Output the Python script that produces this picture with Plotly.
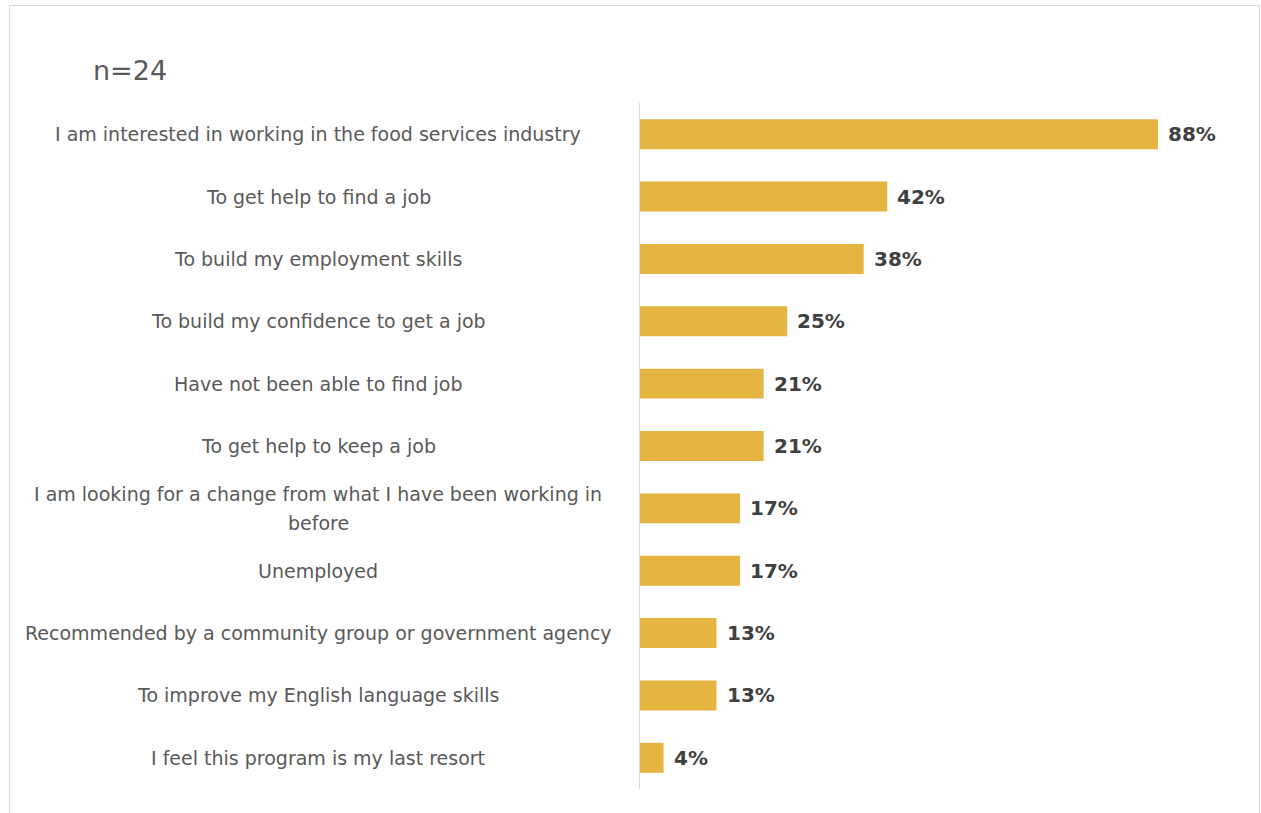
import plotly.graph_objects as go

# Reasons for joining the program, top to bottom
reasons = [
    "I am interested in working in the food services industry",
    "To get help to find a job",
    "To build my employment skills",
    "To build my confidence to get a job",
    "Have not been able to find job",
    "To get help to keep a job",
    "I am looking for a change from what I have been working in<br>before",
    "Unemployed",
    "Recommended by a community group or government agency",
    "To improve my English language skills",
    "I feel this program is my last resort",
]
shares = [88, 42, 38, 25, 21, 21, 17, 17, 13, 13, 4]
sample_note = "n=24"

W, H = 1261, 813
L, R, T, B = 640, 21, 103, 24
plot_w = W - L - R
plot_h = H - T - B

def px_to_paper_x(px):
    return (px - L) / plot_w

def px_to_paper_y(py):
    return (H - B - py) / plot_h

bar_color = "#E6B441"
label_color = "#595959"
value_color = "#404040"
font_family = "DejaVu Sans, Verdana, sans-serif"
line_gap = 29  # spacing between lines of a wrapped category label

fig = go.Figure(
    go.Bar(
        x=shares,
        y=reasons,
        orientation="h",
        marker=dict(color=bar_color, line=dict(width=0)),
        width=0.48,
        hoverinfo="skip",
    )
)

annotations = []
# Value labels just beyond the bar ends
for r, v in zip(reasons, shares):
    annotations.append(dict(
        x=v, y=r, xref="x", yref="y",
        text=f"<b>{v}%</b>", showarrow=False,
        xanchor="left", yanchor="middle", xshift=8,
        font=dict(family=font_family, size=20, color=value_color),
    ))
# Category labels centred in the left panel, one annotation per line
for r in reasons:
    lines = r.split("<br>")
    n = len(lines)
    for i, line in enumerate(lines):
        annotations.append(dict(
            x=px_to_paper_x(318), y=r, xref="paper", yref="y",
            text=line, showarrow=False, align="center",
            xanchor="center", yanchor="middle",
            yshift=((n - 1) / 2 - i) * line_gap,
            font=dict(family=font_family, size=19, color=label_color),
        ))
# Sample size note
annotations.append(dict(
    x=px_to_paper_x(91), y=px_to_paper_y(71), xref="paper", yref="paper",
    text=sample_note, showarrow=False, xanchor="left", yanchor="middle",
    font=dict(family=font_family, size=27, color=label_color),
))

fig.update_layout(
    width=W, height=H,
    margin=dict(l=L, r=R, t=T, b=B, pad=0),
    paper_bgcolor="white", plot_bgcolor="white",
    showlegend=False,
    annotations=annotations,
    shapes=[dict(
        type="rect", xref="paper", yref="paper",
        x0=px_to_paper_x(9.5), x1=px_to_paper_x(1259.5),
        y0=px_to_paper_y(830), y1=px_to_paper_y(5.5),
        line=dict(color="#D9D9D9", width=1), fillcolor="rgba(0,0,0,0)",
        layer="below",
    )],
    xaxis=dict(
        range=[0, plot_w / (518 / 88)],
        showgrid=False, zeroline=False, showticklabels=False,
        showline=False, ticks="", fixedrange=True,
    ),
    yaxis=dict(
        type="category", categoryorder="array", categoryarray=reasons,
        range=[len(reasons) - 0.5, -0.5],
        showgrid=False, zeroline=False, showticklabels=False, ticks="",
        showline=True, linecolor="#D9D9D9", linewidth=1, fixedrange=True,
    ),
)

fig.write_html("out.html")
